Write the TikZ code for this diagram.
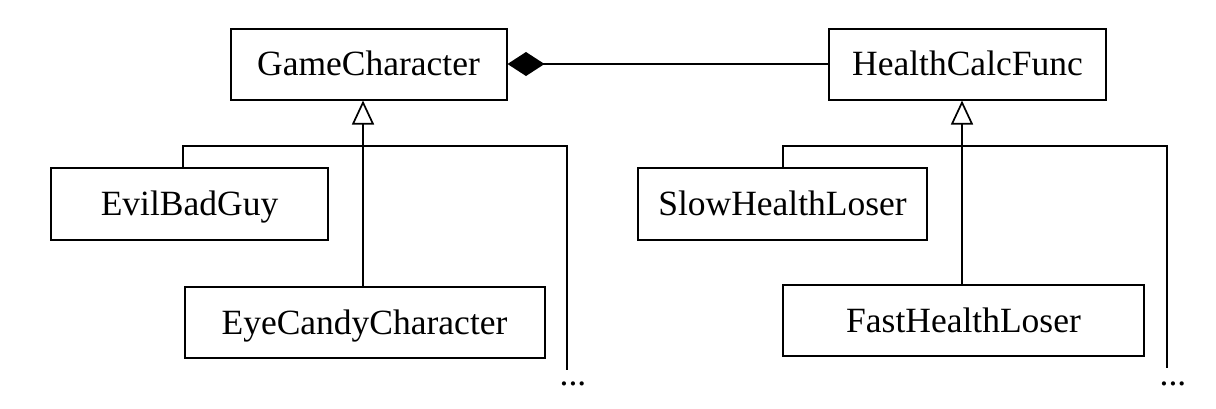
\documentclass[tikz,border=0pt]{standalone}
\usepackage{fontspec}
\setmainfont{Liberation Serif}
\usetikzlibrary{arrows.meta}
\begin{document}
\begin{tikzpicture}[x=1pt,y=-1pt,
  classbox/.style={draw,line width=2pt,minimum height=71pt,inner sep=0pt,
    text height=23.5pt,text depth=0pt,
    font=\fontsize{35.5}{40}\selectfont},
  link/.style={line width=1.8pt},
  inherit/.style={link,-{Triangle[open,length=24pt,width=22pt,line width=1.7pt]}},
  owns/.style={link,{Diamond[length=37pt,width=24pt]}-},
  more/.style={inner sep=0pt,font=\fontsize{35.5}{40}\selectfont}]
\useasboundingbox (0,0) rectangle (1216,408);

% class boxes
\node[classbox,minimum width=276pt] (gc)  at (368.5,64)  {GameCharacter};
\node[classbox,minimum width=277pt] (hcf) at (967.5,64)  {HealthCalcFunc};
\node[classbox,minimum width=277pt,minimum height=72pt] (ebg) at (189.5,204) {EvilBadGuy};
\node[classbox,minimum width=360pt] (ecc) at (364.5,322.5) {EyeCandyCharacter};
\node[classbox,minimum width=289pt,minimum height=72pt] (shl) at (782.5,204) {SlowHealthLoser};
\node[classbox,minimum width=361pt] (fhl) at (963.5,320.5) {FastHealthLoser};

% composition
\draw[owns] (gc.east) -- (hcf.west);

% GameCharacter hierarchy
\coordinate (gt) at (363,146);
\coordinate (gl) at (183,146);
\coordinate (gr) at (567,146);
\coordinate (ge) at (567,370);
\draw[inherit] (gt |- ecc.north) -- (gt |- gc.south);
\draw[link] (gl |- ebg.north) -- (gl) -- (gr) -- (ge);
\node[more] (gdots) at (573,384) {...};

% HealthCalcFunc hierarchy
\coordinate (ht) at (962,146);
\coordinate (hl) at (783,146);
\coordinate (hr) at (1167,146);
\coordinate (he) at (1167,368);
\draw[inherit] (ht |- fhl.north) -- (ht |- hcf.south);
\draw[link] (hl |- shl.north) -- (hl) -- (hr) -- (he);
\node[more] (hdots) at (1173,384) {...};
\end{tikzpicture}
\end{document}
